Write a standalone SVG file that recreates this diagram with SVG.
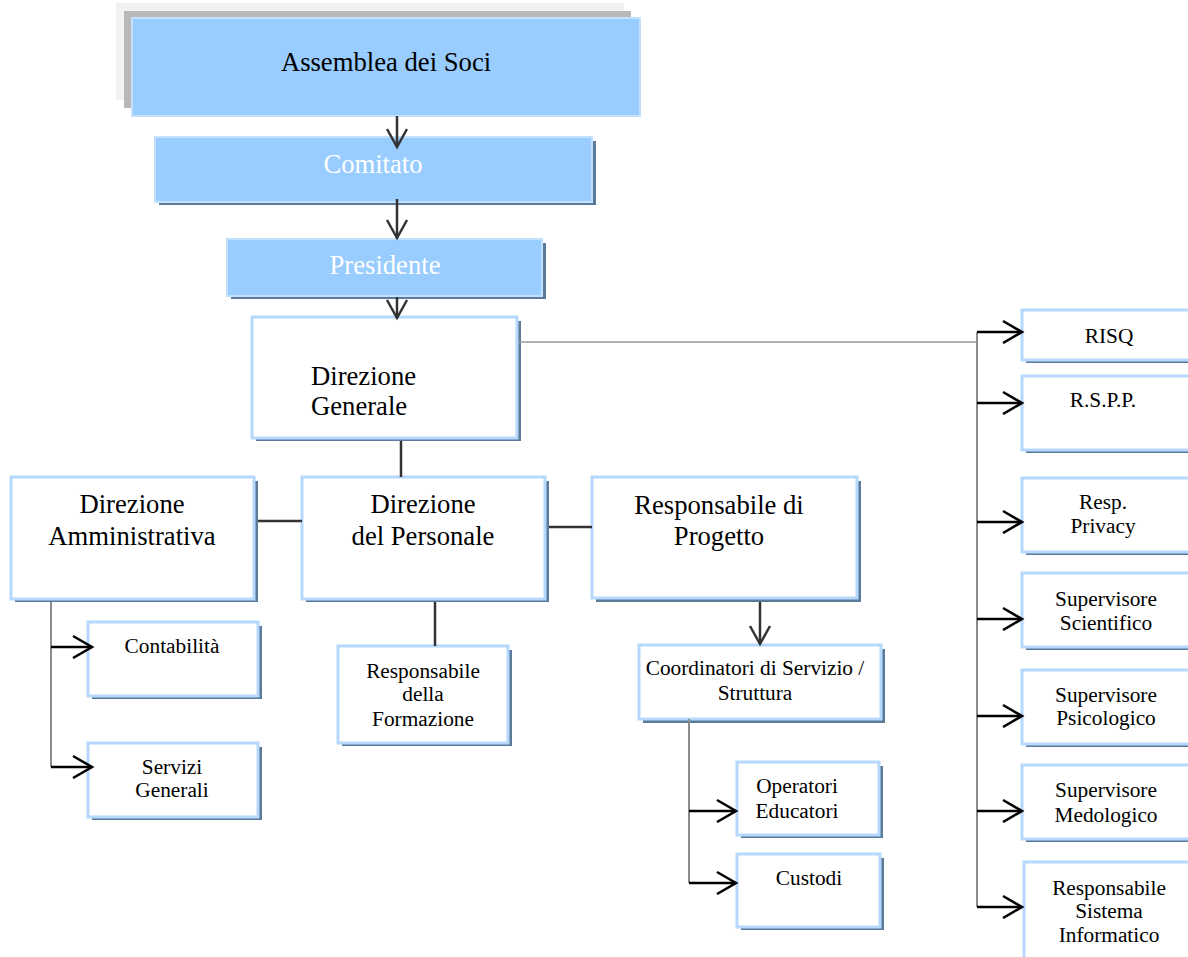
<svg xmlns="http://www.w3.org/2000/svg" width="1188" height="957" viewBox="0 0 1188 957">
<style>
.sh{fill:#5b7b9b}
.bx{fill:#ffffff;stroke:#b5d8fc;stroke-width:3}
.bl{fill:#99ccff;stroke:#c2e1ff;stroke-width:2}
text{font-family:"Liberation Serif","Times New Roman",serif;text-anchor:middle;fill:#000}
.L{font-size:26.67px}
.S{font-size:21.33px}
.w{fill:#ffffff}
.dk{stroke:#333;stroke-width:2.5;fill:none}
.gr{stroke:#8c8c8c;stroke-width:2;fill:none}
.bk{stroke:#000;stroke-width:2.5;fill:none}
</style>
<defs>
<marker id="ah" viewBox="-3 -3 26 26" markerWidth="26" markerHeight="26" refX="18" refY="10" orient="auto" markerUnits="userSpaceOnUse">
<path d="M0,0 L18,10 L0,20" fill="none" stroke="#333" stroke-width="2.5"/>
</marker>
<marker id="ahk" viewBox="-3 -3 26 26" markerWidth="26" markerHeight="26" refX="19" refY="11" orient="auto" markerUnits="userSpaceOnUse">
<path d="M0,0 L19,11 L0,22" fill="none" stroke="#000" stroke-width="2.5"/>
</marker>
</defs>

<g id="assemblea">
<rect x="116" y="3" width="508" height="97" fill="#f2f2f2"/>
<rect x="124" y="11" width="507" height="97" fill="#b8b8b8"/>
<rect x="132" y="18" width="508" height="98" class="bl"/>
<text class="L" x="386" y="71">Assemblea dei Soci</text>
</g>
<g id="comitato">
<rect class="sh" x="159" y="141" width="437" height="64"/>
<rect class="bl" x="155" y="137" width="437" height="65"/>
<text class="L w" x="373" y="173">Comitato</text>
</g>
<g id="presidente">
<rect class="sh" x="231" y="243" width="315" height="56"/>
<rect class="bl" x="227" y="239" width="315" height="57"/>
<text class="L w" x="385" y="274">Presidente</text>
</g>
<g id="direzione-generale">
<rect class="sh" x="256" y="321" width="265" height="120"/>
<rect class="bx" x="252" y="317" width="265" height="121"/>
<text class="L" x="311" y="385" style="text-anchor:start">Direzione</text>
<text class="L" x="311" y="415" style="text-anchor:start">Generale</text>
</g>
<g id="direzione-amministrativa">
<rect class="sh" x="15" y="481" width="243" height="121"/>
<rect class="bx" x="11" y="477" width="243" height="122"/>
<text class="L" x="132" y="513">Direzione</text>
<text class="L" x="132" y="545">Amministrativa</text>
</g>
<g id="direzione-personale">
<rect class="sh" x="306" y="481" width="243" height="121"/>
<rect class="bx" x="302" y="477" width="243" height="122"/>
<text class="L" x="423" y="513">Direzione</text>
<text class="L" x="423" y="545">del Personale</text>
</g>
<g id="responsabile-progetto">
<rect class="sh" x="596" y="481" width="265" height="121"/>
<rect class="bx" x="592" y="477" width="265" height="121"/>
<text class="L" x="719" y="514">Responsabile di</text>
<text class="L" x="719" y="545">Progetto</text>
</g>
<g id="contabilita">
<rect class="sh" x="92" y="626" width="170" height="73"/>
<rect class="bx" x="88" y="622" width="170" height="74"/>
<text class="S" x="172" y="653">Contabilità</text>
</g>
<g id="servizi-generali">
<rect class="sh" x="92" y="747" width="170" height="73"/>
<rect class="bx" x="88" y="743" width="170" height="74"/>
<text class="S" x="172" y="774">Servizi</text>
<text class="S" x="172" y="797">Generali</text>
</g>
<g id="responsabile-formazione">
<rect class="sh" x="342" y="650" width="170" height="96"/>
<rect class="bx" x="338" y="646" width="170" height="97"/>
<text class="S" x="423" y="678">Responsabile</text>
<text class="S" x="423" y="701">della</text>
<text class="S" x="423" y="726">Formazione</text>
</g>
<g id="coordinatori">
<rect class="sh" x="643" y="649" width="242" height="74"/>
<rect class="bx" x="639" y="645" width="242" height="74"/>
<text class="S" x="755" y="675">Coordinatori di Servizio /</text>
<text class="S" x="755" y="700">Struttura</text>
</g>
<g id="operatori">
<rect class="sh" x="741" y="766" width="142" height="72"/>
<rect class="bx" x="737" y="762" width="142" height="73"/>
<text class="S" x="797" y="793">Operatori</text>
<text class="S" x="797" y="818">Educatori</text>
</g>
<g id="custodi">
<rect class="sh" x="741" y="858" width="143" height="72"/>
<rect class="bx" x="737" y="854" width="143" height="73"/>
<text class="S" x="809" y="885">Custodi</text>
</g>
<g id="risq">
<rect class="sh" x="1026" y="314" width="174" height="49"/>
<rect class="bx" x="1022" y="310" width="174" height="50"/>
<text class="S" x="1109" y="343">RISQ</text>
</g>
<g id="rspp">
<rect class="sh" x="1026" y="380" width="174" height="73"/>
<rect class="bx" x="1022" y="376" width="174" height="74"/>
<text class="S" x="1103" y="407">R.S.P.P.</text>
</g>
<g id="privacy">
<rect class="sh" x="1026" y="482" width="174" height="73"/>
<rect class="bx" x="1022" y="478" width="174" height="74"/>
<text class="S" x="1103" y="509">Resp.</text>
<text class="S" x="1103" y="533">Privacy</text>
</g>
<g id="supervisore-scientifico">
<rect class="sh" x="1026" y="577" width="174" height="73"/>
<rect class="bx" x="1022" y="573" width="174" height="74"/>
<text class="S" x="1106" y="606">Supervisore</text>
<text class="S" x="1106" y="630">Scientifico</text>
</g>
<g id="supervisore-psicologico">
<rect class="sh" x="1026" y="674" width="174" height="73"/>
<rect class="bx" x="1022" y="670" width="174" height="74"/>
<text class="S" x="1106" y="702">Supervisore</text>
<text class="S" x="1106" y="725">Psicologico</text>
</g>
<g id="supervisore-medologico">
<rect class="sh" x="1026" y="769" width="174" height="73"/>
<rect class="bx" x="1022" y="765" width="174" height="74"/>
<text class="S" x="1106" y="797">Supervisore</text>
<text class="S" x="1106" y="822">Medologico</text>
</g>
<g id="responsabile-sistema-informatico">
<rect class="sh" x="1028" y="866" width="174" height="100"/>
<rect class="bx" x="1024" y="862" width="174" height="100"/>
<text class="S" x="1109" y="895">Responsabile</text>
<text class="S" x="1109" y="918">Sistema</text>
<text class="S" x="1109" y="942">Informatico</text>
</g>

<g id="connectors">
<line class="dk" x1="397" y1="116" x2="397" y2="147" marker-end="url(#ah)"/>
<line class="dk" x1="397" y1="199" x2="397" y2="238" marker-end="url(#ah)"/>
<line class="dk" x1="397" y1="297" x2="397" y2="318" marker-end="url(#ah)"/>
<line x1="519" y1="342" x2="977" y2="342" stroke="#999" stroke-width="1.5"/>
<line class="gr" x1="977" y1="332" x2="977" y2="907"/>
<line class="dk" x1="401" y1="441" x2="401" y2="477" stroke-width="3"/>
<line class="dk" x1="258" y1="521" x2="302" y2="521" stroke-width="3"/>
<line class="dk" x1="549" y1="527" x2="592" y2="527" stroke-width="3"/>
<line class="dk" x1="435" y1="602" x2="435" y2="646" stroke-width="3"/>
<line class="dk" x1="760" y1="602" x2="760" y2="644" marker-end="url(#ah)"/>
<line class="gr" x1="51" y1="602" x2="51" y2="767"/>
<line class="bk" x1="51" y1="647" x2="92" y2="647" marker-end="url(#ahk)"/>
<line class="bk" x1="51" y1="767" x2="92" y2="767" marker-end="url(#ahk)"/>
<line class="gr" x1="689" y1="719" x2="689" y2="883"/>
<line class="bk" x1="689" y1="811" x2="736" y2="811" marker-end="url(#ahk)"/>
<line class="bk" x1="689" y1="883" x2="736" y2="883" marker-end="url(#ahk)"/>
<line class="bk" x1="977" y1="332" x2="1022" y2="332" marker-end="url(#ahk)"/>
<line class="bk" x1="977" y1="403" x2="1022" y2="403" marker-end="url(#ahk)"/>
<line class="bk" x1="977" y1="522" x2="1022" y2="522" marker-end="url(#ahk)"/>
<line class="bk" x1="977" y1="619" x2="1022" y2="619" marker-end="url(#ahk)"/>
<line class="bk" x1="977" y1="716" x2="1022" y2="716" marker-end="url(#ahk)"/>
<line class="bk" x1="977" y1="811" x2="1022" y2="811" marker-end="url(#ahk)"/>
<line class="bk" x1="977" y1="907" x2="1022" y2="907" marker-end="url(#ahk)"/>
</g>
</svg>
